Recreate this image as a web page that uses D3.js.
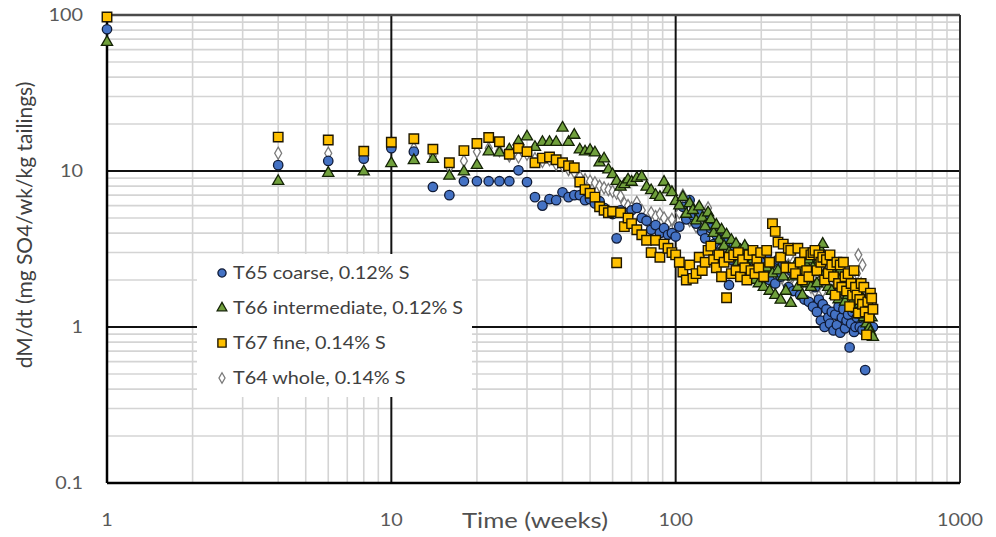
<!DOCTYPE html>
<html><head><meta charset="utf-8">
<script src="https://cdn.jsdelivr.net/npm/d3@7"></script>
<style>body{margin:0;background:#fff}svg{display:block}</style>
</head><body>
<svg id="c" width="996" height="537"></svg>
<script>
// ---- data ----
const weeksEarly = [1,4,6,8,10,12,14,16,18,20,22,24,26,28,30,32,34,36,38,40,42,44,46,48,50,52,54,56,58,60,62,64,66,68,70,73,76,79,82,85,88,91,94,97,100];
const weeksLate = [103,106,109,112,115,118,121,124,127,130, 133,136,139,142,145,148,151,154,157,160, 163,166,169,172,175,178,181,184,187,190, 193,196,199,
  204,209,214,219,224,229,234,239,244,249, 254,259,264,269,274,279,284,289,294,299, 304,309,314,319,324,329,334,339,344,349,
  354,359,364,369,374,379,384,389,394,399, 404,409,414,419,424,429,434,439,444,449, 454,459,464,469,474,479,484,489,494];
const weeks = weeksEarly.concat(weeksLate);

const t65 = [81,10.9,11.6,12,14,13.3,7.9,7.0,8.6,8.6,8.6,8.6,8.6,10.1,8.5,6.8,6.0,6.6,6.5,7.3,6.8,7.0,7.0,6.5,6.6,6.2,6.4,5.8,5.5,5.3,3.7,5.6,5.4,5.2,5.6,5.8,5.0,4.8,4.2,4.5,4.0,4.3,3.9,4.0,3.8,
  4.4,5.9,4.9,6.5,5.2,4.6,5.3,4.1,3.7,4.8, 4.3,3.4,3.9,3.0,3.6,2.8,3.5,1.86,2.7,3.3, 2.4,3.1,2.5,2.9,3.2,2.2,2.8,2.5,2.1,2.8, 2.6,2.0,2.7,
  2.3,2.9,2.0,2.6,1.9,2.7,2.1,2.5,2.4,1.8, 2.3,1.7,2.2,2.5,1.6,2.1,1.5,2.0,1.45,1.9, 1.35,1.8,1.25,1.5,1.1,1.4,1.0,1.3,1.15,1.05,
  1.25,0.95,1.2,1.03,1.35,0.92,1.15,1.3,0.98,1.1, 1.2,0.74,1.05,1.25,0.93,1.0,1.15,1.35,1.0,1.2, 0.96,1.15,0.53,0.9,1.1,1.0,1.25,1.29,1.0];
const t66 = [67,8.6,9.7,9.9,11.2,11.7,11.9,9.3,9.9,10.9,13.3,13.1,13.7,15.4,16.6,14.2,15.3,15.3,15.3,18.9,15.3,17.0,13.7,13.3,13.6,13.1,11.3,12.0,10.2,9.5,8.6,7.9,8.2,8.8,8.5,9.0,9.2,7.9,7.5,7.0,6.8,8.5,7.6,7.3,6.4,
  6.0,6.8,5.3,6.2,5.6,4.8,5.9,5.0,4.4,5.4, 4.9,4.0,4.5,3.6,4.2,3.3,3.9,3.0,3.6,2.8, 3.4,2.6,3.1,2.4,3.3,2.5,2.9,2.2,2.7,2.0, 2.5,1.9,2.3,
  1.8,2.4,1.7,2.2,1.6,2.3,1.49,2.1,1.7,2.4, 1.42,2.1,2.5,1.8,2.3,1.6,2.6,1.9,2.7,1.8, 2.4,2.9,1.9,2.7,3.1,3.4,2.2,2.8,1.8,2.3,
  1.7,2.2,1.6,2.1,1.5,2.3,1.7,2.0,1.45,2.1, 1.6,2.0,1.35,1.9,1.5,1.8,1.3,1.7,1.4,1.2, 1.5,1.15,1.35,1.05,1.3,0.98,0.93,1.15,0.86];
const t67 = [97,16.5,15.8,13.4,15.3,16.1,13.8,11.3,13.5,15,16.4,15.4,12.8,14.0,13.3,11.3,12.1,12.3,11.8,11.3,10.8,10.5,8.5,7.6,7.2,6.8,5.9,5.6,5.4,5.5,2.58,5.4,4.4,5.0,4.6,4.2,3.9,3.6,3.0,3.6,2.8,3.4,3.2,3.0,2.9,
  2.6,2.25,2.0,2.5,2.05,2.2,2.8,2.3,2.6,3.1, 3.3,2.7,2.4,2.9,2.1,2.6,1.54,2.8,2.2,2.9, 2.3,3.0,2.1,2.7,2.4,2.0,2.9,2.3,3.1,2.2, 2.7,2.4,3.0,
  2.1,3.1,2.6,4.6,4.1,3.5,2.8,3.4,2.4,3.2, 3.1,2.4,2.2,3.2,2.6,2.0,3.0,2.3,2.1,2.9, 3.0,3.1,2.3,2.9,2.6,2.8,2.0,2.7,2.2,2.9,
  2.5,2.1,1.6,2.6,1.9,2.5,1.8,2.6,2.1,1.7, 2.2,1.35,1.9,1.6,2.3,1.8,1.6,1.23,1.5,1.9, 1.4,1.8,1.25,0.89,1.45,1.15,1.65,1.53,1.3];
const t64 = [null,13,13,12.5,14.5,14,12.5,10.5,11.6,13.3,14,13.5,12.5,12.3,12.8,12,11.5,11.8,11,10.8,10.2,9.8,9.2,8.8,8.6,8.4,8.0,7.8,7.6,7.4,7.2,6.9,6.2,6.0,5.8,6.3,5.6,4.8,5.4,5.1,5.3,5.0,4.6,4.9,4.4,
  5.4,7.0,5.2,4.8,5.8,4.4,5.0,4.2,4.6,5.8, 3.6,4.3,3.3,4.0,3.1,3.7,2.9,3.5,2.7,3.3, 2.6,3.2,2.5,3.0,2.3,2.8,2.6,2.2,2.9,2.4, 2.1,2.7,2.3,
  2.0,2.7,2.1,2.5,1.9,2.4,2.6,2.0,1.9,2.5, 2.1,2.6,1.9,2.4,1.8,2.5,2.2,1.9,2.4,1.8, 2.3,1.7,2.2,2.5,1.9,1.7,2.2,1.8,2.4,1.9,
  1.7,2.2,1.8,1.6,2.1,1.7,2.3,1.8,1.6,2.1, 1.7,1.5,2.0,1.6,2.1,1.7,2.2,2.9,1.6,1.9, 2.5,1.5,1.8,1.4,1.6,1.35,1.5,1.25,1.4];
const seriesNames = ["T65 coarse, 0.12% S","T66 intermediate, 0.12% S","T67 fine, 0.14% S","T64 whole, 0.14% S"];
const xTickLabels = [1,10,100,1000];
const yTickLabels = [0.1,1,10,100];
const xTitle = "Time (weeks)";
const yTitle = "dM/dt (mg SO4/wk/kg tailings)";

// ---- drawing ----
const FONT = "Lato, 'Open Sans', sans-serif";
const svg = d3.select("#c");
const L=107,R=960,T=15,B=483;
const x = d3.scaleLog().domain([1,1000]).range([L,R]);
const y = d3.scaleLog().domain([0.1,100]).range([B,T]);

const isMajor = v => Math.abs(Math.log10(v)-Math.round(Math.log10(v)))<1e-9;
const xt = x.ticks(), yt = y.ticks();
const grid = svg.append("g");
grid.selectAll(".vx").data(xt.filter(v=>!isMajor(v))).join("line")
  .attr("x1",d=>x(d)).attr("x2",d=>x(d)).attr("y1",T).attr("y2",B)
  .attr("stroke","#d4d4d4").attr("stroke-width",1.6);
grid.selectAll(".hy").data(yt.filter(v=>!isMajor(v))).join("line")
  .attr("y1",d=>y(d)).attr("y2",d=>y(d)).attr("x1",L).attr("x2",R)
  .attr("stroke","#d4d4d4").attr("stroke-width",1.6);
grid.selectAll(".vxM").data(xt.filter(v=>isMajor(v)&&v>1&&v<1000)).join("line")
  .attr("x1",d=>x(d)).attr("x2",d=>x(d)).attr("y1",T).attr("y2",B)
  .attr("stroke","#111").attr("stroke-width",2);
grid.selectAll(".hyM").data(yt.filter(v=>isMajor(v)&&v>0.1&&v<100)).join("line")
  .attr("y1",d=>y(d)).attr("y2",d=>y(d)).attr("x1",L).attr("x2",R)
  .attr("stroke","#111").attr("stroke-width",2);
// frame
svg.append("line").attr("x1",L).attr("x2",R).attr("y1",T).attr("y2",T).attr("stroke","#4a4a4a").attr("stroke-width",2.5);
svg.append("line").attr("x1",R).attr("x2",R).attr("y1",T).attr("y2",B).attr("stroke","#333").attr("stroke-width",2);
svg.append("line").attr("x1",L).attr("x2",L).attr("y1",T).attr("y2",B).attr("stroke","#000").attr("stroke-width",2.5);
svg.append("line").attr("x1",L).attr("x2",R).attr("y1",B).attr("y2",B).attr("stroke","#000").attr("stroke-width",2.5);

// legend background
svg.append("rect").attr("x",197).attr("y",254).attr("width",275).attr("height",143).attr("fill","#fff");

const styles = [
  {data:t65, sym:d3.symbolCircle, size:70, fill:"#4472c4", stroke:"#0f1a36", sw:1.3},
  {data:t66, sym:d3.symbolTriangle, size:54, fill:"#70a03c", stroke:"#142206", sw:1.3},
  {data:t67, sym:d3.symbolSquare, size:90, fill:"#ffc000", stroke:"#1f1700", sw:1.4},
  {data:t64, sym:d3.symbolDiamond, size:42, fill:"#ffffff", stroke:"#7a7a7a", sw:1.3}
];
const drawOrder = [3,0,1,2];
drawOrder.forEach(i=>{
  const s = styles[i];
  const pts = weeks.map((w,k)=>({w, v:s.data[k]})).filter(d=>d.v!=null);
  svg.append("g").selectAll("path").data(pts).join("path")
    .attr("d", d3.symbol().type(s.sym).size(s.size))
    .attr("transform", d=>`translate(${x(d.w)},${y(d.v)})`)
    .attr("fill", s.fill).attr("stroke", s.stroke).attr("stroke-width", s.sw);
});

// helper for horizontally-stretched text (reference glyphs are wide)
function htext(parent, tx, ty, sx, str, size, anchor, fill){
  parent.append("g").attr("transform",`translate(${tx},${ty}) scale(${sx},1)`)
    .append("text").attr("text-anchor",anchor).attr("dy","0.35em")
    .attr("font-family",FONT).attr("font-size",size).attr("fill",fill).text(str);
}
// axes labels
yTickLabels.forEach(d=>htext(svg, 83, y(d), 1.1, d, 18, "end", "#595959"));
xTickLabels.forEach(d=>htext(svg, x(d), 520, 1.1, d, 18, "middle", "#595959"));
htext(svg, 535, 521, 1.22, xTitle, 21, "middle", "#505050");
svg.append("text").attr("transform","translate(32,225) rotate(-90)").attr("text-anchor","middle")
  .attr("font-family",FONT).attr("font-size",21).attr("fill","#404040").text(yTitle);

// legend entries
const lg = svg.append("g");
seriesNames.forEach((n,i)=>{
  const s = styles[i];
  const cy = 273 + i*35;
  lg.append("path").attr("d", d3.symbol().type(s.sym).size(s.size*0.75))
    .attr("transform",`translate(222,${cy})`).attr("fill",s.fill).attr("stroke",s.stroke).attr("stroke-width",s.sw);
  htext(lg, 233, cy, 1.1, n, 18, "start", "#404040");
});
</script>
</body></html>
